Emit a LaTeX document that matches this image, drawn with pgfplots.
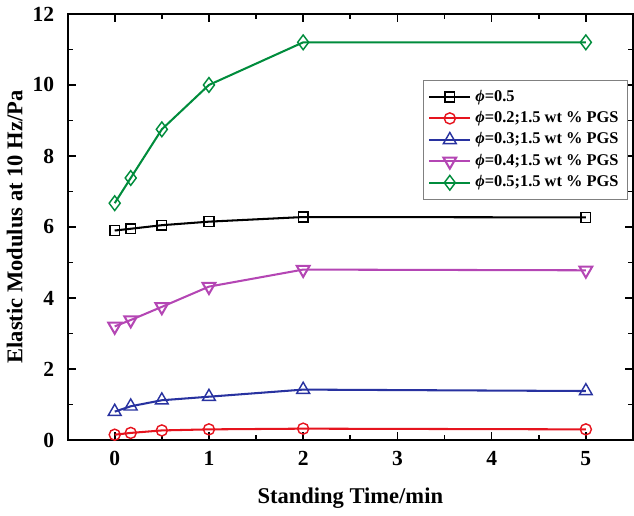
\documentclass[border=0pt]{standalone}
\usepackage{fontspec}
\setmainfont{Liberation Serif}
\usepackage{pgfplots}
\pgfplotsset{compat=1.18}
\definecolor{cred}{RGB}{230,20,30}
\definecolor{cblue}{RGB}{40,50,160}
\definecolor{cmag}{RGB}{180,70,180}
\definecolor{cgreen}{RGB}{0,140,60}
\begin{document}
\begin{tikzpicture}
\begin{axis}[
  scale only axis,
  width=276pt, height=208pt,
  xmin=-0.5, xmax=5.5, ymin=0, ymax=12,
  xtick={0,1,2,3,4,5}, ytick={0,2,4,6,8,10,12},
  minor x tick num=1, minor y tick num=1,
  tick align=inside,
  major tick length=4pt, minor tick length=2.5pt,
  axis line style={line width=1pt},
  every tick/.style={line width=0.8pt, black},
  tick label style={font=\bfseries\fontsize{10.5}{12}\selectfont},
  yticklabel style={xshift=-3pt},
  xticklabel style={yshift=-2pt},
  /pgf/number format/assume math mode=true,
  xlabel={\bfseries\fontsize{11}{13}\selectfont Standing Time/min},
  ylabel={\bfseries\fontsize{11}{13}\selectfont Elastic Modulus at 10 Hz/Pa},
  xlabel style={yshift=-4pt},
  ylabel style={yshift=-2pt},
  legend style={at={(0.628,0.845)}, anchor=north west, draw=gray, line width=0.6pt,
    font=\bfseries\fontsize{8}{10}\selectfont, row sep=-0.5pt, inner sep=2.5pt},
  legend cell align=left,
  legend image code/.code={\draw[mark repeat=2,mark phase=2] plot coordinates {(0cm,0cm) (0.35cm,0cm) (0.7cm,0cm)};},
  every axis plot/.append style={line width=1pt, mark size=2.6pt, mark options={solid, fill=white, line width=0.7pt}},
]
\addplot[black, mark=square, mark size=2.4pt] coordinates {(0,5.9) (0.17,5.95) (0.5,6.05) (1,6.15) (2,6.28) (5,6.27)};
\addlegendentry{\textit{ϕ}=0.5}
\addplot[cred, mark=o, mark size=2.7pt] coordinates {(0,0.15) (0.17,0.2) (0.5,0.27) (1,0.3) (2,0.32) (5,0.3)};
\addlegendentry{\textit{ϕ}=0.2;1.5 wt \% PGS}
\addplot[cblue, mark=triangle, mark size=3.6pt] coordinates {(0,0.8) (0.17,0.95) (0.5,1.12) (1,1.22) (2,1.42) (5,1.38)};
\addlegendentry{\textit{ϕ}=0.3;1.5 wt \% PGS}
\addplot[cmag, mark=triangle, mark size=3.6pt, mark options={rotate=180}] coordinates {(0,3.2) (0.17,3.38) (0.5,3.75) (1,4.32) (2,4.8) (5,4.78)};
\addlegendentry{\textit{ϕ}=0.4;1.5 wt \% PGS}
\addplot[cgreen, mark=diamond, mark size=3.6pt] coordinates {(0,6.67) (0.17,7.38) (0.5,8.75) (1,10.0) (2,11.2) (5,11.2)};
\addlegendentry{\textit{ϕ}=0.5;1.5 wt \% PGS}
\end{axis}
\end{tikzpicture}
\end{document}
